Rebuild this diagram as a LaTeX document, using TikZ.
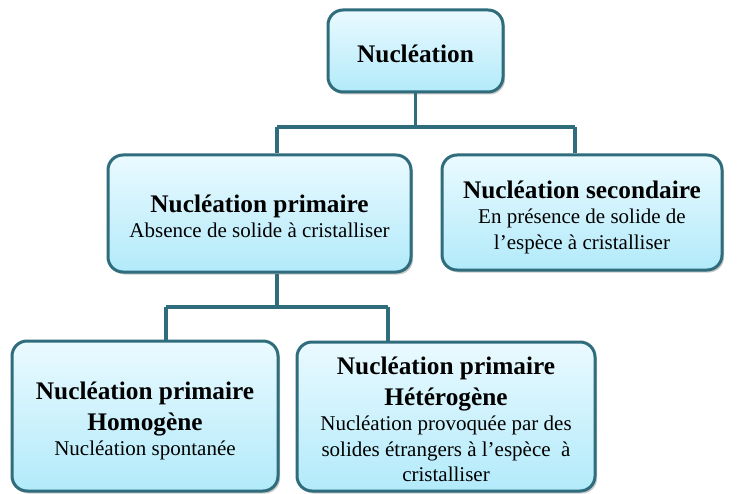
\documentclass[tikz,border=0pt]{standalone}
\usepackage{fontspec}
\setmainfont{Liberation Serif}
\usetikzlibrary{shadows}
\definecolor{edge}{RGB}{47,108,124}
\definecolor{filltop}{RGB}{234,250,255}
\definecolor{fillbot}{RGB}{178,234,250}
% heading and body lines, each carrying its own strut so that the
% baseline spacing is fixed whatever the font size
\newcommand{\hl}[1]{\rule[-7pt]{0pt}{31pt}{\fontsize{25.3}{30}\selectfont\bfseries #1}}
\newcommand{\bl}[1]{\rule[-7pt]{0pt}{25.5pt}{\fontsize{21}{25}\selectfont #1}}
% stacked lines, set 3pt lower than the box centre
\newcommand{\lines}[1]{\raisebox{-3pt}[\height][\depth]{\renewcommand{\arraystretch}{0}\begin{tabular}{@{}c@{}}#1\end{tabular}}}
\tikzset{
  box/.style={draw=edge, line width=3pt, rounded corners=15pt,
    top color=filltop, bottom color=fillbot,
    inner sep=0pt, text=black,
    drop shadow={shadow xshift=2pt, shadow yshift=-2.5pt, opacity=0.35, fill=black!60}},
  link/.style={draw=edge, line width=3.2pt}
}
\begin{document}
\begin{tikzpicture}[x=1pt, y=-1pt]
\useasboundingbox[fill=white] (0,0) rectangle (738,494);

% boxes
\node[box, minimum width=175pt, minimum height=82pt] (top) at (415.5,51)
  {\lines{\hl{Nucléation}}};
\node[box, minimum width=303pt, minimum height=117pt] (prim) at (259.5,213.5)
  {\lines{\hl{Nucléation primaire}\\\bl{Absence de solide à cristalliser}}};
\node[box, minimum width=280pt, minimum height=115pt] (sec) at (582,212.5)
  {\lines{\hl{Nucléation secondaire}\\\bl{En présence de solide de}\\\bl{l’espèce à cristalliser}}};
\node[box, minimum width=266pt, minimum height=150pt] (homo) at (145,416)
  {\lines{\hl{Nucléation primaire}\\\hl{Homogène}\\\bl{Nucléation spontanée}}};
\node[box, minimum width=298pt, minimum height=149pt] (hetero) at (446,416.5)
  {\lines{\hl{Nucléation primaire}\\\hl{Hétérogène}\\\bl{Nucléation provoquée par des}\\\bl{solides étrangers à l’espèce \ à}\\\bl{cristalliser}}};

% junction points of the tree
\coordinate (jp) at (277,127);
\coordinate (js) at (575,127);
\coordinate (jh) at (166,307);
\coordinate (je) at (388,307);
\coordinate (pb) at (277,307);

% connectors
\draw[link] (top.south) -- (top.south |- jp);
\draw[link] (jp) -- (js);
\draw[link] (jp) -- (jp |- prim.north);
\draw[link] (js) -- (js |- sec.north);
\draw[link] (pb |- prim.south) -- (pb);
\draw[link] (jh) -- (je);
\draw[link] (jh) -- (jh |- homo.north);
\draw[link] (je) -- (je |- hetero.north);
\end{tikzpicture}
\end{document}
